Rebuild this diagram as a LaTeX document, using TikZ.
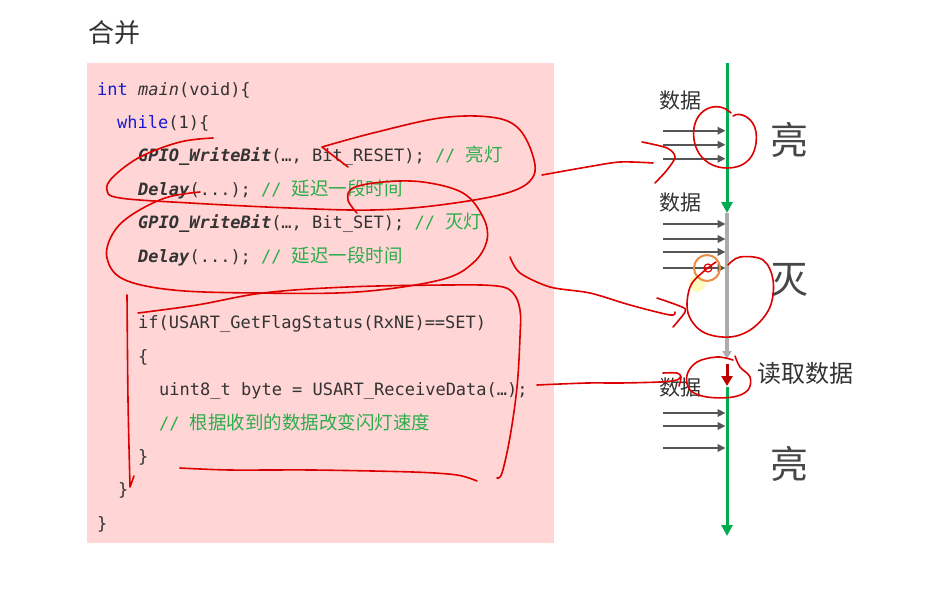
\documentclass[tikz,border=0pt]{standalone}
\usepackage{fontspec}
\setmainfont{Noto Sans CJK SC}
\newfontfamily\cjk{Noto Sans CJK SC}
\newfontfamily\codefont{DejaVu Sans Mono}
\usetikzlibrary{arrows.meta}

\definecolor{codepink}{RGB}{255,213,213}
\definecolor{kwblue}{RGB}{25,25,210}
\definecolor{cmtgreen}{RGB}{45,172,75}
\definecolor{txtgray}{RGB}{51,51,51}
\definecolor{inkred}{RGB}{222,0,0}
\definecolor{linegreen}{RGB}{0,172,80}
\definecolor{arrowgray}{RGB}{85,85,85}
\definecolor{stopgray}{RGB}{172,172,172}
\definecolor{cursorring}{RGB}{235,140,70}

\newcommand\kw[1]{\textcolor{kwblue}{#1}}
\newcommand\fn[1]{\textbf{\textit{#1}}}
\newcommand\cmt[1]{\textcolor{cmtgreen}{#1}}
\newcommand\zh[1]{{\cjk\fontsize{18.5}{20}\selectfont #1}}

\tikzset{
	codeline/.style={anchor=base west, inner sep=0pt, text=txtgray,
		font=\codefont\fontsize{17}{20}\selectfont},
	datalabel/.style={text=txtgray, inner sep=0pt, font=\cjk\fontsize{21}{22}\selectfont},
	statelabel/.style={text=txtgray!90, inner sep=0pt, font=\cjk\fontsize{38}{40}\selectfont},
	dataarrow/.style={arrowgray, line width=2.2pt, -{Triangle[length=8pt,width=7.5pt]}},
	timeline/.style={line width=3pt, -{Triangle[length=11pt,width=11pt]}},
	ink/.style={inkred, line width=1.6pt, line cap=round, line join=round}
}

\begin{document}
\begin{tikzpicture}[x=1pt, y=-1pt]
	\useasboundingbox[fill=white] (0,0) rectangle (926,608);

	% Titel
	\node[text=txtgray, font=\cjk\fontsize{26}{28}\selectfont] (title) at (114,33) {合并};

	% Code
	\fill[codepink] (87,63) rectangle (554,543);
	\node[codeline] (l1) at (97,95) {\kw{int} \textit{main}(void)\{};
	\node[codeline] (l2) at (117,128.4) {\kw{while}(1)\{};
	\node[codeline] (l3) at (138,161.8) {\fn{GPIO\_WriteBit}(…, Bit\_RESET); \cmt{// \zh{亮灯}}};
	\node[codeline] (l4) at (138,195.2) {\fn{Delay}(...); \cmt{// \zh{延迟一段时间}}};
	\node[codeline] (l5) at (138,228.6) {\fn{GPIO\_WriteBit}(…, Bit\_SET); \cmt{// \zh{灭灯}}};
	\node[codeline] (l6) at (138,262) {\fn{Delay}(...); \cmt{// \zh{延迟一段时间}}};
	\node[codeline] (l7) at (138,328.8) {if(USART\_GetFlagStatus(RxNE)==SET)};
	\node[codeline] (l8) at (138,362.2) {\{};
	\node[codeline] (l9) at (159,395.6) {uint8\_t byte = USART\_ReceiveData(…);};
	\node[codeline] (l10) at (159,429) {\cmt{// \zh{根据收到的数据改变闪灯速度}}};
	\node[codeline] (l11) at (138,462.4) {\}};
	\node[codeline] (l12) at (118,495.8) {\}};
	\node[codeline] (l13) at (97,529.2) {\}};

	% Zeitachse
	\coordinate (t0) at (727,63);
	\coordinate (t1) at (727,213);
	\coordinate (t2) at (727,359);
	\coordinate (t3) at (727,364);
	\coordinate (t4) at (727,386);
	\coordinate (t5) at (727,387);
	\coordinate (t6) at (727,536);
	\foreach \y in {130.7,144.7,158.7, 224,239,252,268, 413,426,448}
		\draw[dataarrow] (663,\y) -- (725.5,\y);
	\draw[timeline, linegreen] (t0) -- (t1);
	\draw[timeline, stopgray, line width=3.5pt, -{Triangle[length=8pt,width=9pt]}] (t1) -- (t2);
	\draw[timeline, inkred!85!black, -{Triangle[length=10pt,width=11pt]}] (t3) -- (t4);
	\draw[timeline, linegreen] (t5) -- (t6);

	\node[datalabel] (d1) at (680,101) {数据};
	\node[datalabel] (d2) at (680,203) {数据};
	\node[datalabel] (d3) at (680,388) {数据};
	\node[statelabel] (on1) at (789,140) {亮};
	\node[statelabel] (off) at (789,280) {灭};
	\node[statelabel] (on2) at (789,464) {亮};
	\node[text=txtgray, inner sep=0pt, font=\cjk\fontsize{24}{26}\selectfont] (read) at (805,373) {读取数据};

	% Mauszeiger
	\fill[yellow!50, opacity=0.5] (697,284) circle (8);
	\draw[cursorring, line width=2pt] (707,268) circle (13);
	\draw[inkred, line width=1.2pt] (708,268) circle (4);
	\fill[inkred] (708,268) circle (1);

	% Anmerkungen
	\draw[ink] plot[smooth, tension=0.6] coordinates {(213,138) (180,142) (140,157) (113,177) (107,190) (120,198) (190,203) (290,208) (373,210) (440,205) (507,193) (533,177) (532,153) (517,127) (490,117) (440,118) (373,133) (322,147)} -- (348,167);
	\draw[ink] plot[smooth, tension=0.6] coordinates {(357,213) (348,200) (353,188) (383,182) (423,182) (463,193) (483,217) (487,240) (473,263) (440,280) (357,292) (257,293) (173,290) (123,279) (107,258) (112,235) (130,216) (165,198) (200,192)};
	\draw[ink] plot[smooth] coordinates {(127,295) (128,400) (130,487)} -- (134,476);
	\draw[ink] plot[smooth, tension=0.6] coordinates {(138,313) (197,305) (263,293) (347,287) (447,285) (497,286) (513,293) (520,310) (520,337) (517,387) (510,437) (502,473) (497,478)};
	\draw[ink] plot[smooth] coordinates {(180,468) (230,470) (313,470) (413,472) (457,475) (477,481)};
	\draw[ink] plot[smooth] coordinates {(542,175) (587,167) (620,162) (653,163)};
	\draw[ink] plot[smooth] coordinates {(642,142) (667,148) (675,157) (667,170) (655,183)};
	\draw[ink] plot[smooth] coordinates {(510,257) (520,273) (550,287) (590,293) (630,305) (670,315) (675,312)};
	\draw[ink] plot[smooth] coordinates {(657,298) (682,307) (685,312) (673,327)};
	\draw[ink] plot[smooth] coordinates {(537,385) (587,383) (620,383) (660,382) (677,380) (680,377)};
	\draw[ink] plot[smooth] coordinates {(663,373) (677,373) (681,377) (679,386)};
	\draw[ink] (731,113) .. controls (718,100) and (697,108) .. (694,128)
		.. controls (691,150) and (705,168) .. (727,168)
		.. controls (752,168) and (758,148) .. (756,132)
		.. controls (754,118) and (740,111) .. (733,116);
	\draw[ink] plot[smooth, tension=0.6] coordinates {(728,265) (740,257) (763,260) (773,280) (770,307) (753,328) (730,337) (703,332) (688,313) (690,287) (703,272) (716,262)};
	\draw[ink] plot[smooth, tension=0.6] coordinates {(735,356) (740,367) (750,377) (748,390) (733,397) (707,397) (690,390) (687,375) (697,362) (717,357) (733,360)};
\end{tikzpicture}
\end{document}
